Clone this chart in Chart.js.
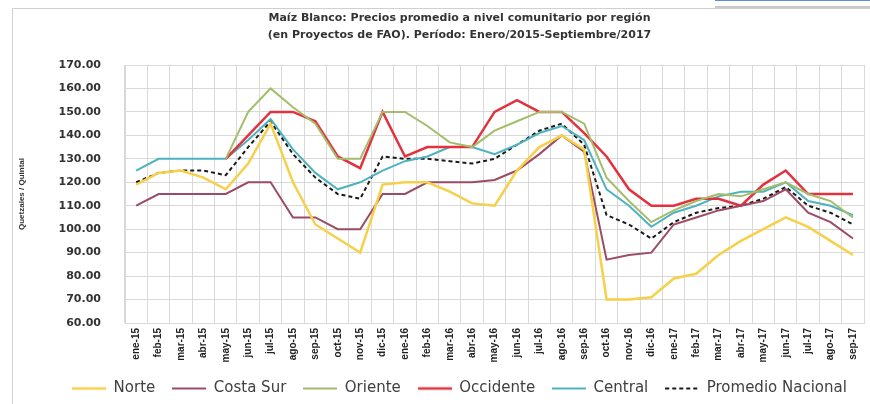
<!DOCTYPE html>
<html>
<head>
<meta charset="utf-8">
<script src="https://cdn.jsdelivr.net/npm/chart.js@4"></script>
<style>
  html, body { margin: 0; padding: 0; background: #fff; }
  #wrap { width: 870px; height: 404px; }
</style>
</head>
<body>
<div id="wrap"><canvas id="myChart" width="870" height="404"></canvas></div>
<script>
const meses = [
  "ene-15", "feb-15", "mar-15", "abr-15", "may-15", "jun-15", "jul-15", "ago-15", "sep-15", "oct-15", "nov-15", "dic-15",
  "ene-16", "feb-16", "mar-16", "abr-16", "may-16", "jun-16", "jul-16", "ago-16", "sep-16", "oct-16", "nov-16", "dic-16",
  "ene-17", "feb-17", "mar-17", "abr-17", "may-17", "jun-17", "jul-17", "ago-17", "sep-17",
];

const norte = [119, 124, 125, 122, 117, 128, 145, 120, 102, 96, 90, 119, 120, 120, 116, 111, 110, 125, 135, 140, 134, 70, 70, 71, 79, 81, 89, 95, 100, 105, 101, 95, 89];
const costaSur = [110, 115, 115, 115, 115, 120, 120, 105, 105, 100, 100, 115, 115, 120, 120, 120, 121, 125, 132, 140, 133, 87, 89, 90, 102, 105, 108, 110, 112, 117, 107, 103, 96];
const oriente = [null, null, null, null, 130, 150, 160, 152, 145, 130, 130, 150, 150, 144, 137, 135, 142, 146, 150, 150, 145, 122, 112, 103, 108, 112, 115, 114, 117, 120, 115, 112, 105];
const occidente = [null, null, null, null, 130, 140, 150, 150, 146, 131, 126, 150, 131, 135, 135, 135, 150, 155, 150, 150, 141, 131, 117, 110, 110, 113, 113, 110, 119, 125, 115, 115, 115];
const central = [125, 130, 130, 130, 130, 138, 147, 134, 124, 117, 120, 125, 129, 131, 135, 135, 132, 136, 141, 144, 138, 117, 110, 101, 107, 110, 114, 116, 116, 120, 112, 110, 106];
const promedio = [120, 124, 125, 125, 123, 135, 146, 132, 122, 115, 113, 131, 130, 130, 129, 128, 130, 136, 142, 145, 136, 106, 102, 96, 103, 107, 109, 110, 113, 118, 110, 107, 102];

const yTicks = { min: 60, max: 170, step: 10 };

// marco del gráfico y recuadro azul de arriba a la derecha
const marco = {
  id: "marco",
  beforeDraw(chart) {
    const c = chart.ctx;
    c.save();
    c.strokeStyle = "#d0d0d0";
    c.lineWidth = 1;
    c.beginPath();
    c.moveTo(12.5, 410);
    c.lineTo(12.5, 8.5);
    c.lineTo(870, 8.5);
    c.stroke();
    c.fillStyle = "#ffffff";
    c.fillRect(715, 0, 155, 6);
    c.strokeStyle = "#5b8fd6";
    c.beginPath();
    c.moveTo(715, 0.5);
    c.lineTo(870, 0.5);
    c.stroke();
    c.strokeStyle = "#c8c8c8";
    c.lineWidth = 2;
    c.beginPath();
    c.moveTo(715, 7);
    c.lineTo(870, 7);
    c.stroke();
    c.restore();
  },
};

// muestra de línea para la leyenda (permite la línea punteada)
const anchoMuestra = 34;
function muestra(color, width, dash) {
  const c = document.createElement("canvas");
  c.width = anchoMuestra;
  c.height = 6;
  const g = c.getContext("2d");
  g.strokeStyle = color;
  g.lineWidth = width;
  g.setLineDash(dash || []);
  g.beginPath();
  g.moveTo(0, 3);
  g.lineTo(anchoMuestra, 3);
  g.stroke();
  return c;
}

function serie(label, data, color, width, dash) {
  return {
    label: label,
    data: data,
    borderColor: color,
    backgroundColor: color,
    borderWidth: width,
    borderDash: dash || [],
    pointRadius: 0,
    pointHoverRadius: 0,
    pointStyle: muestra(color, width, dash),
    tension: 0,
    spanGaps: false,
  };
}

new Chart(document.getElementById("myChart"), {
  type: "line",
  data: {
    labels: meses,
    datasets: [
      serie("Norte", norte, "#f7d04a", 2.5),
      serie("Costa Sur", costaSur, "#9c4b63", 2),
      serie("Oriente", oriente, "#a3bd6b", 2),
      serie("Occidente", occidente, "#e2323f", 2.5),
      serie("Central", central, "#4fb3bf", 2),
      serie("Promedio Nacional", promedio, "#1a1a1a", 2, [4, 3]),
    ],
  },
  plugins: [marco],
  options: {
    responsive: false,
    animation: false,
    layout: { padding: { left: 52, right: 3, top: 8, bottom: -2 } },
    plugins: {
      title: {
        display: true,
        text: [
          "Maíz Blanco: Precios promedio a nivel comunitario por región",
          "(en Proyectos de FAO). Período: Enero/2015-Septiembre/2017",
        ],
        color: "#333",
        font: { family: "DejaVu Sans", size: 11, weight: "bold", lineHeight: 1.5 },
        padding: { top: 2, bottom: 22 },
      },
      legend: {
        position: "bottom",
        labels: {
          usePointStyle: true,
          pointStyleWidth: anchoMuestra,
          color: "#404040",
          font: { family: "DejaVu Sans", size: 15 },
          padding: 17,
        },
      },
      tooltip: { enabled: false },
    },
    scales: {
      x: {
        offset: true,
        grid: { offset: true, color: "#d9d9d9", drawTicks: false },
        border: { color: "#d9d9d9" },
        ticks: {
          autoSkip: false,
          minRotation: 90,
          maxRotation: 90,
          padding: 5,
          color: "#222",
          font: { family: "Liberation Sans", size: 10, weight: "bold" },
        },
        afterFit(scale) {
          scale.height = 41;
        },
      },
      y: {
        min: yTicks.min,
        max: yTicks.max,
        grid: { color: "#d9d9d9", drawTicks: false },
        border: { color: "#d9d9d9" },
        ticks: {
          stepSize: yTicks.step,
          padding: 24,
          color: "#333",
          font: { family: "DejaVu Sans", size: 11, weight: "bold" },
          callback: (v) => v.toFixed(2),
        },
        title: {
          display: true,
          text: "Quetzales / Quintal",
          color: "#333",
          font: { family: "Liberation Sans", size: 8, weight: "bold" },
          padding: { top: -35, bottom: 4 },
        },
        afterFit(scale) {
          scale.width = 73;
        },
      },
    },
  },
});
</script>
</body>
</html>
